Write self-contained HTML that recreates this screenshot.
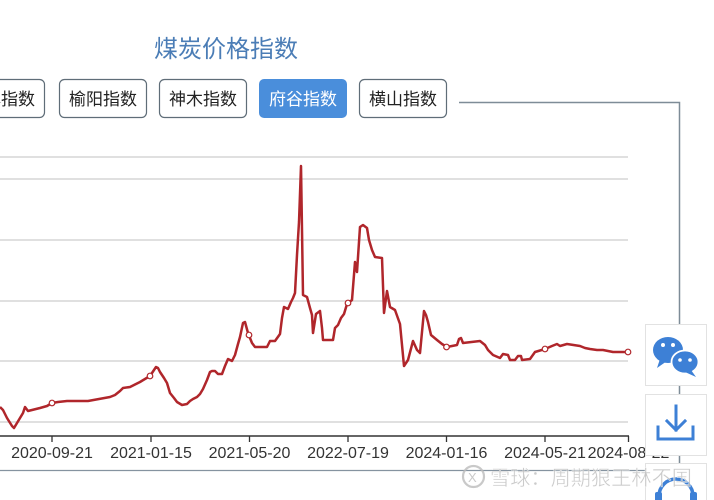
<!DOCTYPE html>
<html>
<head>
<meta charset="utf-8">
<style>
  html,body{margin:0;padding:0;background:#fff;}
  body{width:714px;height:500px;overflow:hidden;position:relative;}
  svg{position:absolute;left:0;top:0;}
  .t{font-family:"Liberation Sans","Noto Sans CJK SC",sans-serif;}
</style>
</head>
<body>
<svg width="714" height="500" viewBox="0 0 714 500" xmlns="http://www.w3.org/2000/svg">
  <rect width="714" height="500" fill="#fff"/>

  <!-- Title -->
  <text class="t" x="226" y="57" text-anchor="middle" font-size="24" fill="#4b7db6">煤炭价格指数</text>

  <!-- Buttons -->
  <g class="t" font-size="17" text-anchor="middle">
    <rect x="-42.5" y="79.5" width="87" height="38" rx="5" fill="#fff" stroke="#5f6d78" stroke-width="1.2"/>
    <text x="1" y="105" fill="#222">榆林指数</text>
    <rect x="59.5" y="79.5" width="87" height="38" rx="5" fill="#fff" stroke="#5f6d78" stroke-width="1.2"/>
    <text x="103" y="105" fill="#222">榆阳指数</text>
    <rect x="159.5" y="79.5" width="87" height="38" rx="5" fill="#fff" stroke="#5f6d78" stroke-width="1.2"/>
    <text x="203" y="105" fill="#222">神木指数</text>
    <rect x="259" y="79" width="88" height="39" rx="5" fill="#4a8edb"/>
    <text x="303" y="105" fill="#fff">府谷指数</text>
    <rect x="359.5" y="79.5" width="87" height="38" rx="5" fill="#fff" stroke="#5f6d78" stroke-width="1.2"/>
    <text x="403" y="105" fill="#222">横山指数</text>
  </g>

  <!-- connector lines -->
  <polyline points="459,102.5 679.5,102.5 679.5,500" fill="none" stroke="#7e8c97" stroke-width="1.5"/>
  <line x1="0" y1="470.5" x2="645" y2="470.5" stroke="#8593a0" stroke-width="1.3"/>

  <!-- Gridlines -->
  <g stroke="#d6d6d6" stroke-width="1.6">
    <line x1="0" y1="157" x2="628" y2="157"/>
    <line x1="0" y1="179" x2="628" y2="179"/>
    <line x1="0" y1="240" x2="628" y2="240"/>
    <line x1="0" y1="301" x2="628" y2="301"/>
    <line x1="0" y1="361" x2="628" y2="361"/>
    <line x1="0" y1="422" x2="628" y2="422"/>
  </g>

  <!-- X axis -->
  <line x1="0" y1="436" x2="629" y2="436" stroke="#333" stroke-width="1.5"/>
  <g stroke="#333" stroke-width="1.3">
    <line x1="52" y1="436" x2="52" y2="442"/>
    <line x1="151" y1="436" x2="151" y2="442"/>
    <line x1="249.5" y1="436" x2="249.5" y2="442"/>
    <line x1="348" y1="436" x2="348" y2="442"/>
    <line x1="446.5" y1="436" x2="446.5" y2="442"/>
    <line x1="545" y1="436" x2="545" y2="442"/>
    <line x1="628.5" y1="436" x2="628.5" y2="442"/>
  </g>
  <g class="t" font-size="16" fill="#333" text-anchor="middle">
    <text x="52" y="458">2020-09-21</text>
    <text x="151" y="458">2021-01-15</text>
    <text x="249.5" y="458">2021-05-20</text>
    <text x="348" y="458">2022-07-19</text>
    <text x="446.5" y="458">2024-01-16</text>
    <text x="545" y="458">2024-05-21</text>
    <text x="628.5" y="458">2024-08-22</text>
  </g>

  <!-- Series -->
  <polyline fill="none" stroke="#b0262b" stroke-width="2.5" stroke-linejoin="round" points="
  0,407 3,410 7,418 12,426 14,428 17,423 20,418 23,413 25,407 28,411 32,410 40,408 47,406 52,403 58,402 67,401 88,401 110,397 115,395 120,391 123,388 130,387 140,382 150,376 154,370 156,367 158,368 160,372 164,378 167,383 170,393 174,398 177,402 182,405 187,404 190,401 193,399 197,397 200,394 203,389 207,380 210,372 212,371 215,371 218,374 222,374 225,366 228,359 232,361 235,355 238,344 240,337 243,323 245,322 248,333 252,343 255,347 267,347 270,341 275,341 280,334 282,318 284,307 288,309 291,302 293,298 295,293 297,255 299,222 301,166 302,230 303,295 307,297 310,308 312,315 313,333 316,314 320,311 322,328 323,340 333,340 335,328 338,325 341,318 344,314 347,304 352,300 355,262 357,272 360,227 363,225 367,228 369,240 372,250 375,257 382,258 384,313 387,291 390,307 395,310 400,324 404,366 408,360 413,341 417,350 420,353 424,311 426,315 428,322 431,335 437,340 442,344 447,347 457,345 459,339 461,338 463,343 480,341 485,345 488,350 493,355 500,358 503,354 508,355 510,360 515,360 518,356 521,356 522,360 530,359 535,352 545,349 552,346 557,344 560,346 567,344 580,346 585,348 590,349 597,350 603,350 608,351 613,352 628,352"/>
  <g fill="#fff" stroke="#b0262b" stroke-width="1.2">
    <circle cx="52" cy="403" r="2.8"/>
    <circle cx="150" cy="376" r="2.8"/>
    <circle cx="249" cy="335" r="2.8"/>
    <circle cx="348" cy="303" r="2.8"/>
    <circle cx="446.5" cy="347" r="2.8"/>
    <circle cx="545" cy="349" r="2.8"/>
    <circle cx="628" cy="352" r="2.8"/>
  </g>

  <!-- Side icon boxes -->
  <rect x="645.5" y="324.5" width="61" height="61" fill="#fff" stroke="#e2e2e2" stroke-width="1"/>
  <rect x="645.5" y="394.5" width="61" height="61" fill="#fff" stroke="#e2e2e2" stroke-width="1"/>
  <rect x="645.5" y="463.5" width="61" height="61" fill="#fff" stroke="#e2e2e2" stroke-width="1"/>

  <!-- wechat icon -->
  <g fill="#3d80d6">
    <ellipse cx="668" cy="350" rx="15" ry="13"/>
    <polygon points="660,359 657,368 667,361"/>
    <ellipse cx="685" cy="362" rx="13.5" ry="11.5" stroke="#fff" stroke-width="1.8"/>
    <polygon points="691,370 696,377 685,372"/>
  </g>
  <g fill="#fff">
    <circle cx="663" cy="345" r="2"/>
    <circle cx="673" cy="345" r="2"/>
    <circle cx="680" cy="360" r="1.8"/>
    <circle cx="690" cy="360" r="1.8"/>
  </g>

  <!-- download icon -->
  <g fill="none" stroke="#3d80d6" stroke-width="3" stroke-linecap="square">
    <line x1="676" y1="406" x2="676" y2="430"/>
    <polyline points="667,421 676,430 685,421"/>
    <polyline points="658,427 658,439 693,439 693,427"/>
  </g>

  <!-- headset icon (partial) -->
  <g fill="none" stroke="#3d80d6" stroke-width="3.5">
    <path d="M659,500 L659,496 A17,17 0 0 1 693,496 L693,500"/>
  </g>
  <rect x="655" y="492" width="7" height="10" rx="2" fill="#3d80d6"/>
  <rect x="690" y="492" width="7" height="10" rx="2" fill="#3d80d6"/>

  <!-- Watermark (on top) -->
  <g opacity="0.8">
    <circle cx="473.5" cy="476.5" r="10.5" fill="none" stroke="#bcbcbc" stroke-width="2.2"/>
    <text x="468" y="482" font-size="13" fill="#bcbcbc" class="t">X</text>
    <text class="t" x="490" y="485" font-size="20.5" fill="#bfbfbf" stroke="#fff" stroke-width="0.4" textLength="202" lengthAdjust="spacingAndGlyphs">雪球：周期狠王林不国</text>
  </g>
</svg>
</body>
</html>
